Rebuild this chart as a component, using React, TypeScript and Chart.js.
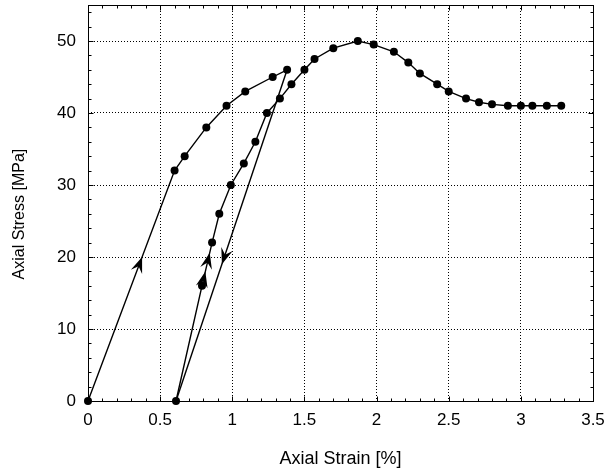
import React, { useEffect, useRef } from 'react';
import { Chart, registerables } from 'chart.js';

Chart.register(...registerables);

// Initial loading path
const loadX = [0, 0.6, 0.67, 0.82, 0.96, 1.09, 1.28, 1.38];
const loadY = [0, 32, 34, 38, 41, 43, 45, 46];

// Unloading path
const unloadX = [1.38, 0.61];
const unloadY = [46, 0];

// Reloading path to failure
const reloadX = [0.61, 0.79, 0.86, 0.91, 0.99, 1.08, 1.16, 1.24, 1.33, 1.41, 1.5, 1.57, 1.7, 1.87, 1.98, 2.12, 2.22, 2.3, 2.42, 2.5, 2.62, 2.71, 2.8, 2.91, 3.0, 3.08, 3.18, 3.28];
const reloadY = [0, 16, 22, 26, 30, 33, 36, 40, 42, 44, 46, 47.5, 49, 50, 49.5, 48.5, 47, 45.5, 44, 43, 42, 41.5, 41.2, 41, 41, 41, 41, 41];

// Arrow markers: dataset index, segment index, stress value at the tip
const arrowDataset = [0, 1, 2, 2];
const arrowSegment = [0, 0, 1, 1];
const arrowStress = [20, 19, 18, 20.6];

// Axis ticks
const xMin = 0, xMax = 3.5, xStep = 0.5, xMinorStep = 0.1;
const yMin = 0, yMax = 55, yStep = 10, yMinorStep = 2;

const FONT = '"Liberation Sans", Arial, Helvetica, sans-serif';

const toPts = (xs: number[], ys: number[]) => xs.map((x, i) => ({ x, y: ys[i] }));

const framePlugin = {
  id: 'frame',
  beforeDatasetsDraw(chart: any) {
    const { ctx, scales } = chart;
    const xs = scales.x, ys = scales.y;
    const L = Math.round(xs.getPixelForValue(xMin)) + 0.5;
    const R = Math.round(xs.getPixelForValue(xMax)) + 0.5;
    const B = Math.round(ys.getPixelForValue(yMin)) + 0.5;
    const T = Math.round(ys.getPixelForValue(yMax)) + 0.5;
    ctx.save();
    ctx.strokeStyle = '#000';
    ctx.lineWidth = 1;
    ctx.setLineDash([]);
    ctx.beginPath();
    const nx = Math.round((xMax - xMin) / xMinorStep);
    const every = Math.round(xStep / xMinorStep);
    for (let i = 0; i <= nx; i++) {
      const v = xMin + i * xMinorStep;
      const px = Math.round(xs.getPixelForValue(v)) + 0.5;
      const len = i % every === 0 ? 5 : 3;
      ctx.moveTo(px, B);
      ctx.lineTo(px, B - len);
      ctx.moveTo(px, T);
      ctx.lineTo(px, T + len);
    }
    const ny = Math.round((yMax - yMin) / yMinorStep);
    for (let i = 0; i <= ny; i++) {
      const v = yMin + i * yMinorStep;
      if (v > yMax) break;
      const py = Math.round(ys.getPixelForValue(v)) + 0.5;
      const major = Math.abs(v / yStep - Math.round(v / yStep)) < 1e-9;
      const len = major ? 5 : 3;
      ctx.moveTo(L, py);
      ctx.lineTo(L + len, py);
      ctx.moveTo(R, py);
      ctx.lineTo(R - len, py);
    }
    ctx.stroke();
    ctx.strokeRect(L, T, R - L, B - T);
    ctx.restore();
  },
  afterDatasetsDraw(chart: any) {
    const { ctx, scales } = chart;
    const xs = scales.x, ys = scales.y;
    ctx.save();
    ctx.fillStyle = '#000';
    for (let k = 0; k < arrowDataset.length; k++) {
      const data = chart.data.datasets[arrowDataset[k]].data;
      const p0 = data[arrowSegment[k]], p1 = data[arrowSegment[k] + 1];
      const t = (arrowStress[k] - p0.y) / (p1.y - p0.y);
      const vx = p0.x + (p1.x - p0.x) * t;
      const tipX = xs.getPixelForValue(vx), tipY = ys.getPixelForValue(arrowStress[k]);
      const ang = Math.atan2(ys.getPixelForValue(p1.y) - ys.getPixelForValue(p0.y), xs.getPixelForValue(p1.x) - xs.getPixelForValue(p0.x));
      ctx.save();
      ctx.translate(tipX, tipY);
      ctx.rotate(ang);
      ctx.beginPath();
      ctx.moveTo(0, 0);
      ctx.lineTo(-16, -6);
      ctx.lineTo(-10, 0);
      ctx.lineTo(-16, 6);
      ctx.closePath();
      ctx.fill();
      ctx.restore();
    }
    ctx.restore();
  },
};

const fmt = (v: any) => String(Number(v));

export default function App() {
  const ref = useRef<HTMLCanvasElement | null>(null);
  useEffect(() => {
    if (!ref.current) return;
    const lineDs = (data: any[], showPts: boolean) => ({
      data,
      borderColor: '#000',
      backgroundColor: '#000',
      borderWidth: 1.4,
      pointRadius: showPts ? 4 : 0,
      pointHoverRadius: showPts ? 4 : 0,
      pointBackgroundColor: '#000',
      pointBorderWidth: 0,
      showLine: true,
      fill: false,
      tension: 0,
      clip: false,
    });
    const chart = new Chart(ref.current, {
      type: 'scatter',
      data: {
        datasets: [
          lineDs(toPts(loadX, loadY), true),
          lineDs(toPts(unloadX, unloadY), false),
          lineDs(toPts(reloadX, reloadY), true),
        ],
      },
      options: {
        animation: false,
        responsive: false,
        events: [],
        layout: { padding: { left: 0, top: 5, right: 15, bottom: 0 } },
        plugins: { legend: { display: false }, tooltip: { enabled: false } },
        scales: {
          x: {
            type: 'linear',
            min: xMin,
            max: xMax,
            afterFit: (s: any) => { s.height = 75; s.paddingLeft = 0; s.paddingRight = 0; },
            ticks: { stepSize: xStep, color: '#000', font: { family: FONT, size: 17 }, padding: 9, includeBounds: false, callback: fmt },
            grid: { color: '#000', lineWidth: 1, drawTicks: false },
            border: { display: false, dash: [1, 2] },
            title: { display: true, text: 'Axial Strain [%]', color: '#000', font: { family: FONT, size: 18 }, padding: { top: 0, bottom: 6 } },
          },
          y: {
            type: 'linear',
            min: yMin,
            max: yMax,
            afterFit: (s: any) => { s.width = 88; s.paddingTop = 0; s.paddingBottom = 0; },
            ticks: { stepSize: yStep, color: '#000', font: { family: FONT, size: 17 }, padding: 12, includeBounds: false, callback: fmt },
            grid: { color: '#000', lineWidth: 1, drawTicks: false },
            border: { display: false, dash: [1, 2] },
            title: { display: true, text: 'Axial Stress [MPa]     ', color: '#000', font: { family: FONT, size: 16 }, padding: { top: 10, bottom: 0 } },
          },
        },
      },
      plugins: [framePlugin],
    } as any);
    return () => chart.destroy();
  }, []);
  return (
    <div style={{ position: 'absolute', left: 0, top: 0, width: 608, height: 476, background: '#fff' }}>
      <canvas ref={ref} width={608} height={476} style={{ display: 'block' }} />
    </div>
  );
}
